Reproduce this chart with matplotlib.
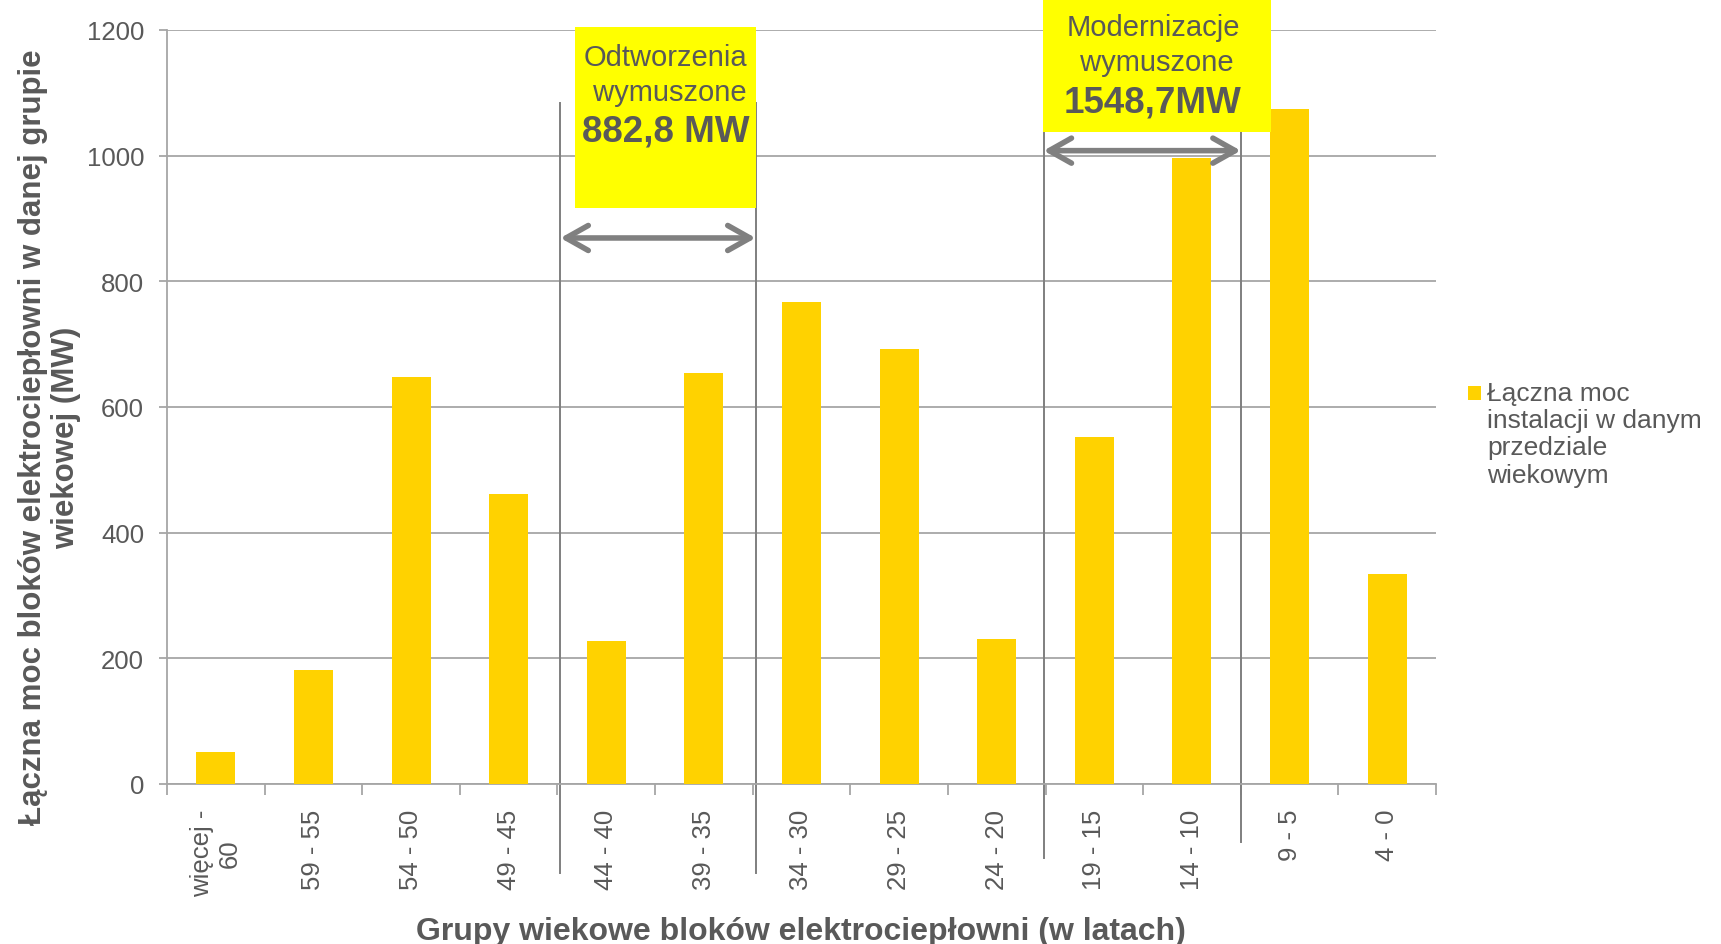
import matplotlib
matplotlib.use("Agg")
import matplotlib.pyplot as plt
from matplotlib.patches import Rectangle

plt.rcParams['font.family'] = ['Liberation Sans', 'DejaVu Sans']

# Data: installed CHP capacity per age group (MW)
age_groups = ["więcej -\n60", "59 - 55", "54 - 50", "49 - 45", "44 - 40", "39 - 35",
              "34 - 30", "29 - 25", "24 - 20", "19 - 15", "14 - 10", "9 - 5", "4 - 0"]
capacity_mw = [51, 182, 648, 461, 228, 654.8, 767, 693, 231, 552, 996.7, 1074, 334]

# Highlighted age ranges (first and last bar index)
rebuild_range = (4, 5)
modern_range = (9, 10)
rebuild_title = ["Odtworzenia", " wymuszone"]
modern_title = ["Modernizacje", " wymuszone"]

legend_label = "Łączna moc\ninstalacji w danym\nprzedziale\nwiekowym"
x_title = "Grupy wiekowe bloków elektrociepłowni (w latach)"
y_title = "Łączna moc bloków elektrociepłowni w danej grupie\nwiekowej (MW)"

BAR = '#FFD200'
BOX = '#FFFF00'
TXT = '#595959'
GRID = '#A6A6A6'
SEP = '#7F7F7F'

fig = plt.figure(figsize=(17.21, 9.45), dpi=100)
ax = fig.add_axes([167 / 1721, 1 - 785 / 945, (1436 - 167) / 1721, (785 - 31) / 945])

x = list(range(len(age_groups)))
ax.bar(x, capacity_mw, width=0.4, color=BAR, zorder=3)

ax.set_xlim(-0.5, len(age_groups) - 0.5)
ax.set_ylim(0, 1200)
ax.set_yticks(range(0, 1201, 200))
ax.yaxis.grid(True, color=GRID, lw=1.3, zorder=0)
ax.set_axisbelow(True)

ax.set_xticks(x)
ax.set_xticklabels(age_groups, rotation=90, fontsize=18.5, color=TXT, ha='center', va='top')
ax.set_xticks([i - 0.5 for i in range(len(age_groups) + 1)], minor=True)
ax.tick_params(axis='x', which='major', length=0, pad=18)
ax.tick_params(axis='x', which='minor', length=8, width=1.3, color=GRID)
ax.tick_params(axis='y', length=5.5, width=1.3, color=GRID, labelsize=18.5,
               labelcolor=TXT, pad=11)

for side in ['top', 'right']:
    ax.spines[side].set_visible(False)
for side in ['left', 'bottom']:
    ax.spines[side].set_color(GRID)
    ax.spines[side].set_linewidth(1.3)
ax.spines['left'].set_zorder(4)

# Vertical separators around the highlighted ranges
separators = [(rebuild_range[0] - 0.47, -142, 1084),
              (rebuild_range[1] + 0.53, -142, 1084),
              (modern_range[0] - 0.52, -118, 1135),
              (modern_range[1] + 0.5, -92, 1084)]
for sx, y0, y1 in separators:
    ax.plot([sx, sx], [y0, y1], color=SEP, lw=1.4, clip_on=False, zorder=2)


def mw_text(value):
    return f"{value:.1f}".replace('.', ',')


def range_note(x0, x1, title, total_text, box, arrow_y, text_x, text_ys):
    bx0, bx1, by0, by1 = box
    ax.add_patch(Rectangle((bx0, by0), bx1 - bx0, by1 - by0, facecolor=BOX,
                           edgecolor='none', clip_on=False, zorder=5))
    ax.text(text_x, text_ys[0], title[0], fontsize=21, color=TXT, ha='center',
            va='center', zorder=6)
    ax.text(text_x, text_ys[1], title[1], fontsize=21, color=TXT, ha='center',
            va='center', zorder=6)
    ax.text(text_x, text_ys[2], total_text, fontsize=26.5, fontweight='bold',
            color=TXT, ha='center', va='center', zorder=6)
    ax.annotate('', xy=(x1, arrow_y), xytext=(x0, arrow_y),
                arrowprops=dict(arrowstyle='<->,head_length=0.8,head_width=0.45',
                                color='#808080', lw=4, shrinkA=0, shrinkB=0,
                                mutation_scale=20, capstyle='round', joinstyle='round'),
                annotation_clip=False, zorder=6)


rebuild_total = sum(capacity_mw[rebuild_range[0]:rebuild_range[1] + 1])
modern_total = sum(capacity_mw[modern_range[0]:modern_range[1] + 1])

range_note(separators[0][0], separators[1][0], rebuild_title,
           mw_text(rebuild_total) + " MW", (3.68, 5.53, 916, 1205), 869, 4.61,
           (1157, 1101, 1039))
range_note(separators[2][0], separators[3][0], modern_title,
           mw_text(modern_total) + "MW", (8.47, 10.81, 1038, 1260), 1008, 9.60,
           (1205, 1149, 1086))

# Axis titles
fig.text(0.4655, 0.014, x_title, fontsize=23, fontweight='bold', color=TXT,
         ha='center', va='center')
fig.text(0.0288, 0.537, y_title, fontsize=22.5, fontweight='bold', color=TXT,
         ha='center', va='center', rotation=90, linespacing=1.15)

# Legend
fig.patches.append(Rectangle((1468 / 1721, 1 - 401 / 945), 13 / 1721, 14 / 945,
                             facecolor=BAR, edgecolor='none', transform=fig.transFigure))
fig.text(1487 / 1721, 1 - 382 / 945, legend_label, fontsize=19, color=TXT,
         ha='left', va='top', linespacing=1.17)

fig.savefig("out.png", dpi=100)
